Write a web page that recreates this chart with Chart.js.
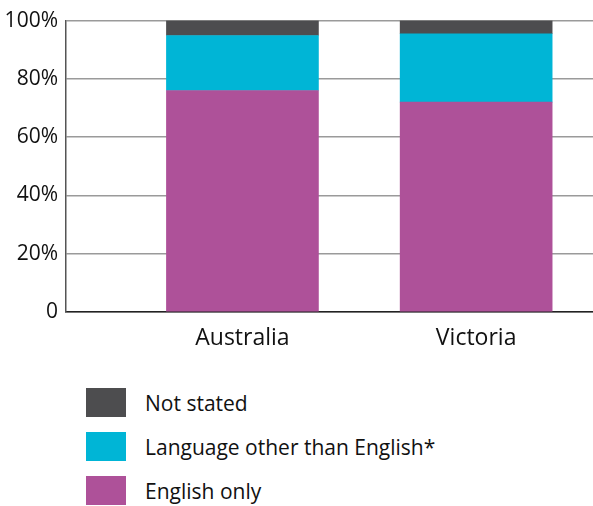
<!DOCTYPE html>
<html>
<head>
<meta charset="utf-8">
<script src="https://cdn.jsdelivr.net/npm/chart.js@4"></script>
<style>
  body { margin: 0; background: #fff; font-family: "Open Sans", sans-serif; }
  #wrap { position: relative; width: 593px; height: 506px; }
  #chartBox { position: absolute; left: 0; top: 0; width: 593px; height: 370px; }
  #legend { position: absolute; left: 86px; top: 388px; }
  .item { display: flex; align-items: center; height: 29px; margin-bottom: 15px; }
  .box { width: 40px; height: 29px; margin-right: 19px; }
  .lbl { font-size: 21px; color: #111; }
</style>
</head>
<body>
<div id="wrap">
  <div id="chartBox"><canvas id="languageChart"></canvas></div>
  <div id="legend"></div>
</div>
<script>
// Categorias e valores (percentagem)
const categories = ['Australia', 'Victoria'];
const englishOnly = [76.0, 72.0];
const otherLanguage = [18.9, 23.5];
const notStated = [5.1, 4.5];
const yTicks = [0, 20, 40, 60, 80, 100];

const seriesNames = ['English only', 'Language other than English*', 'Not stated'];
const seriesColors = ['#ae5199', '#00b5d6', '#4d4d4f'];

document.addEventListener('DOMContentLoaded', function () {
    const seriesValues = [englishOnly, otherLanguage, notStated];
    const datasets = seriesValues.map((vals, s) => ({
        label: seriesNames[s],
        data: vals.map((v, i) => ({ x: i + 1, y: v })),
        backgroundColor: seriesColors[s],
        borderWidth: 0,
        barThickness: 152
    }));

    const config = {
        type: 'bar',
        data: { datasets: datasets },
        options: {
            responsive: true,
            maintainAspectRatio: false,
            animation: false,
            layout: { padding: { top: 20, right: 0, left: 0, bottom: 0 } },
            plugins: { legend: { display: false }, tooltip: { enabled: false } },
            scales: {
                x: {
                    type: 'linear',
                    stacked: true,
                    offset: false,
                    min: 0.245,
                    max: 2.5,
                    afterBuildTicks: axis => { axis.ticks = categories.map((c, i) => ({ value: i + 1 })); },
                    afterFit: axis => { axis.height = 58; },
                    grid: { display: false, drawTicks: false },
                    border: { display: true, color: '#222', width: 1.5 },
                    ticks: {
                        padding: 13,
                        color: '#111',
                        font: { family: 'Open Sans', size: 23 },
                        callback: v => categories[v - 1] || ''
                    }
                },
                y: {
                    stacked: true,
                    min: 0,
                    max: 100,
                    afterBuildTicks: axis => { axis.ticks = yTicks.map(v => ({ value: v })); },
                    afterFit: axis => { axis.width = 66; },
                    grid: { color: '#9a9a9a', lineWidth: 1.5, drawTicks: false },
                    border: { display: true, color: '#555', width: 1.5 },
                    ticks: {
                        padding: 8,
                        color: '#111',
                        font: { family: 'Open Sans', size: 21 },
                        callback: v => v === 0 ? '0' : v + '%'
                    }
                }
            }
        }
    };

    const chart = new Chart(document.getElementById('languageChart'), config);

    // legenda em HTML, ordem invertida
    const legend = document.getElementById('legend');
    chart.data.datasets.slice().reverse().forEach(ds => {
        const item = document.createElement('div');
        item.className = 'item';
        const box = document.createElement('div');
        box.className = 'box';
        box.style.background = ds.backgroundColor;
        const lbl = document.createElement('span');
        lbl.className = 'lbl';
        lbl.innerText = ds.label;
        item.appendChild(box);
        item.appendChild(lbl);
        legend.appendChild(item);
    });
});
</script>
</body>
</html>
